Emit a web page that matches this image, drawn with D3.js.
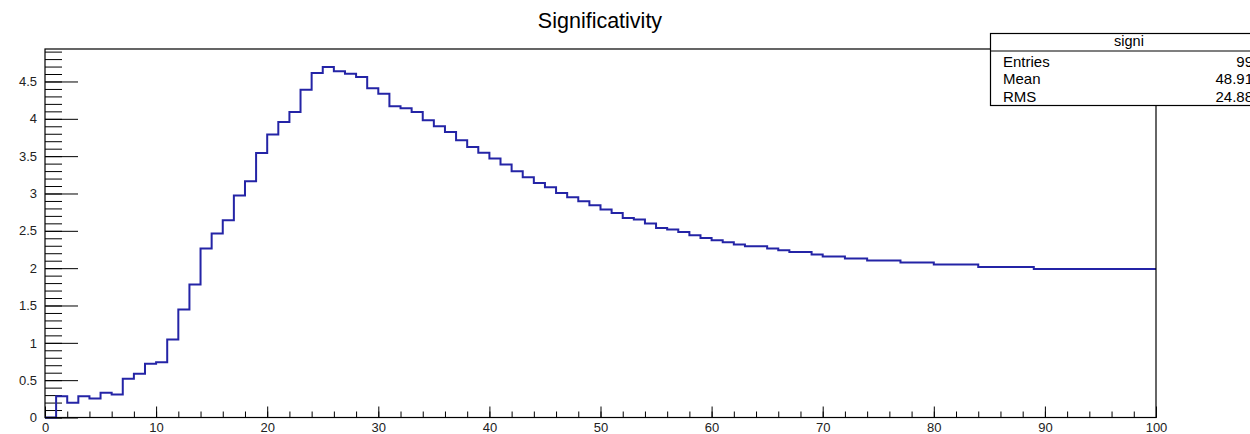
<!DOCTYPE html>
<html lang="en">
<head>
<meta charset="utf-8">
<title>Significativity</title>
<script src="https://d3js.org/d3.v7.min.js"></script>
<style>
  body { margin: 0; background: #fff; }
  svg { display: block; font-family: "Liberation Sans", Arial, sans-serif; }
</style>
</head>
<body>
<svg id="chart" width="1250" height="434"></svg>
<script>
// histogram "signi": 100 bins of width 1 from 0 to 100
var xLow = 0, xHigh = 100;
var signi = [
  0, 0.285, 0.197, 0.285, 0.254, 0.33, 0.308, 0.52, 0.585, 0.72,
  0.74, 1.044, 1.446, 1.78, 2.262, 2.463, 2.641, 2.972, 3.164, 3.543,
  3.789, 3.958, 4.092, 4.39, 4.614, 4.695, 4.636, 4.605, 4.56, 4.41,
  4.337, 4.168, 4.14, 4.092, 3.98, 3.9, 3.824, 3.712, 3.624, 3.545,
  3.467, 3.387, 3.298, 3.217, 3.142, 3.083, 3.008, 2.949, 2.896, 2.842,
  2.784, 2.74, 2.673, 2.651, 2.597, 2.539, 2.517, 2.485, 2.44, 2.405,
  2.374, 2.347, 2.316, 2.293, 2.293, 2.262, 2.24, 2.215, 2.215, 2.184,
  2.157, 2.157, 2.128, 2.128, 2.102, 2.102, 2.102, 2.075, 2.075, 2.075,
  2.048, 2.048, 2.048, 2.048, 2.017, 2.017, 2.017, 2.017, 2.017, 1.99,
  1.99, 1.99, 1.99, 1.99, 1.99, 1.99, 1.99, 1.99, 1.99, 1.99
];
var yMax = 4.935;
var xMajorTicks = [0, 10, 20, 30, 40, 50, 60, 70, 80, 90, 100];
var yMajorTicks = [0, 0.5, 1, 1.5, 2, 2.5, 3, 3.5, 4, 4.5];
var statNames = ["Entries", "Mean", "RMS"];
var statValues = ["99", "48.91", "24.88"];
var histName = "signi";
var title = "Significativity";

function draw() {
  var svg = d3.select("#chart");
  var padL = 45, padR = 1156, padT = 49, padB = 417.5;

  var x = d3.scaleLinear().domain([xLow, xHigh]).range([padL, padR]);
  var y = d3.scaleLinear().domain([0, yMax]).range([padB, padT]);

  var binW = (xHigh - xLow) / signi.length;
  var pts = signi.map(function(v, i) { return [xLow + i * binW, v]; });
  pts.push([xHigh, signi[signi.length - 1]]);

  // axes: minor then major ticks, ticks drawn inside the frame
  var yMinor = d3.range(0, yMax, 0.1);
  svg.append("g")
      .attr("transform", "translate(" + padL + ",0)")
      .call(d3.axisLeft(y).tickValues(yMinor).tickSizeInner(-17).tickSizeOuter(0).tickFormat(""))
      .call(function(g) { g.select(".domain").remove(); });
  svg.append("g")
      .attr("transform", "translate(" + padL + ",0)")
      .call(d3.axisLeft(y).tickValues(yMajorTicks).tickSizeInner(-33).tickSizeOuter(0).tickPadding(8)
        .tickFormat(function(d) { return d3.format("~g")(d); }))
      .call(function(g) { g.select(".domain").remove(); })
      .selectAll("text").attr("font-size", 13).attr("font-family", "Liberation Sans, Arial, sans-serif").attr("fill", "#222");

  svg.append("g")
      .attr("transform", "translate(0," + padB + ")")
      .call(d3.axisBottom(x).tickValues(d3.range(0, 101, 2)).tickSizeInner(-6).tickSizeOuter(0).tickFormat(""))
      .call(function(g) { g.select(".domain").remove(); });
  svg.append("g")
      .attr("transform", "translate(0," + padB + ")")
      .call(d3.axisBottom(x).tickValues(xMajorTicks).tickSizeInner(-11).tickSizeOuter(0).tickPadding(5))
      .call(function(g) { g.select(".domain").remove(); })
      .selectAll("text").attr("font-size", 13).attr("font-family", "Liberation Sans, Arial, sans-serif").attr("fill", "#222");

  // histogram outline
  var line = d3.line()
      .x(function(d) { return x(d[0]); })
      .y(function(d) { return y(d[1]); })
      .curve(d3.curveStepAfter);

  svg.append("path")
      .datum(pts)
      .attr("d", line)
      .attr("fill", "none")
      .attr("stroke", "#2424a6")
      .attr("stroke-width", 2);

  // frame
  svg.append("rect")
      .attr("x", padL).attr("y", padT)
      .attr("width", padR - padL).attr("height", padB - padT)
      .attr("fill", "none").attr("stroke", "#000").attr("stroke-width", 1.2);

  // title
  svg.append("text")
      .attr("x", 600).attr("y", 28)
      .attr("text-anchor", "middle")
      .attr("font-size", 21.5)
      .text(title);

  // stats box
  var box = svg.append("g");
  box.append("rect")
      .attr("x", 990.5).attr("y", 33.5).attr("width", 290).attr("height", 72)
      .attr("fill", "#fff").attr("stroke", "#000").attr("stroke-width", 1.2);
  box.append("line")
      .attr("x1", 990.5).attr("x2", 1280).attr("y1", 51).attr("y2", 51)
      .attr("stroke", "#000").attr("stroke-width", 1.2);
  box.append("text")
      .attr("x", 1129).attr("y", 45.5)
      .attr("text-anchor", "middle").attr("font-size", 14.5)
      .text(histName);
  statNames.forEach(function(n, i) {
    box.append("text")
        .attr("x", 1003).attr("y", 66.5 + i * 17.5)
        .attr("font-size", 15).text(n);
    box.append("text")
        .attr("x", 1253).attr("y", 66.5 + i * 17.5)
        .attr("text-anchor", "end").attr("font-size", 15).text(statValues[i]);
  });
}

draw();
</script>
</body>
</html>
